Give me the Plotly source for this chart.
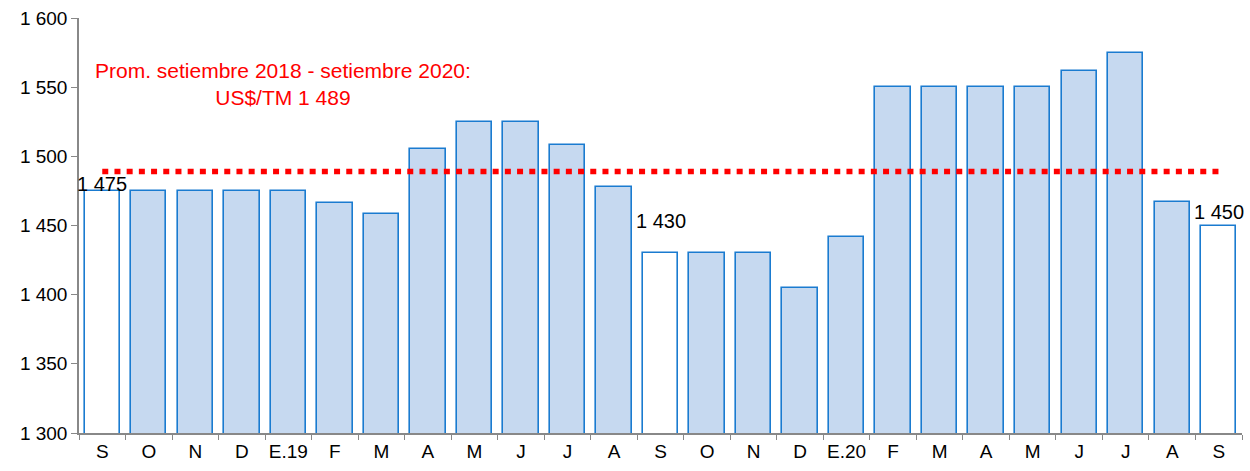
import plotly.graph_objects as go

# monthly price, US$/TM, setiembre 2018 - setiembre 2020
months = ["S", "O", "N", "D", "E.19", "F", "M", "A", "M", "J", "J", "A",
          "S", "O", "N", "D", "E.20", "F", "M", "A", "M", "J", "J", "A", "S"]
prices = [1475, 1475, 1475, 1475, 1475, 1466, 1458, 1505, 1525, 1525, 1508, 1478,
          1430, 1430, 1430, 1405, 1442, 1550, 1550, 1550, 1550, 1562, 1575, 1467, 1450]
# septembers are drawn hollow and labelled
highlight = [0, 12, 24]
label_shift = {0: 7, 12: 32, 24: 14}
average = 1489

xs = list(range(len(months)))
fills = ["white" if i in highlight else "#c6d9f0" for i in xs]

def fmt(v):
    return f"{v:,}".replace(",", " ")

fig = go.Figure()
fig.add_trace(go.Bar(
    x=xs, y=prices, width=0.76,
    marker=dict(color=fills, line=dict(color="#1a7bd0", width=1.6)),
    hoverinfo="skip",
))
fig.add_trace(go.Scatter(
    x=[xs[0], xs[-1]], y=[average, average], mode="lines",
    line=dict(color="#ff0000", width=5.5, dash="6px,6.2px"),
    hoverinfo="skip",
))

for i in highlight:
    fig.add_annotation(x=xs[i], y=prices[i], text=fmt(prices[i]),
                       showarrow=False, xanchor="center", yanchor="middle", yshift=label_shift[i],
                       font=dict(size=20, color="black"))

fig.add_annotation(xref="paper", x=0.175, y=1552, xanchor="center", yanchor="middle",
                   text="Prom. setiembre 2018 - setiembre 2020:<br>US$/TM " + fmt(average),
                   showarrow=False, font=dict(size=21, color="#ff0000"))

fig.update_layout(
    width=1250, height=471,
    margin=dict(l=79, r=8, t=15, b=38),
    plot_bgcolor="white", paper_bgcolor="white",
    showlegend=False, bargap=0,
    separators=", ",
    font=dict(family="Liberation Sans, Arial, sans-serif", size=19, color="black"),
    xaxis=dict(
        range=[-0.5, len(months) - 0.5],
        tickvals=xs, ticktext=months, ticks="", showgrid=False, zeroline=False,
        showline=True, linecolor="#888888", linewidth=1.5,
        minor=dict(tick0=-0.5, dtick=1, ticks="outside", ticklen=5, tickcolor="#888888", showgrid=False),
    ),
    yaxis=dict(
        range=[1300, 1600], dtick=50, tickformat=",d",
        ticks="outside", ticklen=6, tickcolor="#888888",
        showgrid=False, zeroline=False,
        showline=True, linecolor="#888888", linewidth=1.5,
    ),
)

# drop the default 8px page margin so the figure fills the window
fig.write_html("out.html", config={"displayModeBar": False},
               post_script="document.body.style.margin='0';")
